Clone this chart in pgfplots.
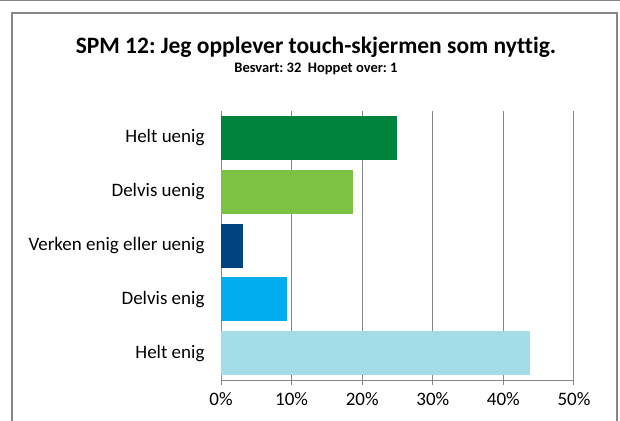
\documentclass[border=0pt]{standalone}
\usepackage{fontspec}
\setmainfont{Carlito}[Ligatures=NoCommon]
\usepackage{pgfplots}
\pgfplotsset{compat=1.18}
\definecolor{c1}{HTML}{00843D}
\definecolor{c2}{HTML}{7DC242}
\definecolor{c3}{HTML}{004381}
\definecolor{c4}{HTML}{00AEEF}
\definecolor{c5}{HTML}{A3DDE8}
\definecolor{gridc}{HTML}{868686}
\begin{document}
\frenchspacing
\begin{tikzpicture}
\path[use as bounding box] (0,0) rectangle (620bp,421bp);
\draw[gridc,line width=1.2bp] (0,420.5bp) -- (620bp,420.5bp);
\draw[gridc,line width=1.5bp] (12bp,-5bp) |- (617bp,408bp) -- (617bp,-5bp);
\node[font=\fontsize{23.5bp}{26bp}\selectfont\bfseries] at (316bp,374bp) {SPM 12: Jeg opplever touch-skjermen som nyttig.};
\node[font=\fontsize{14.5bp}{16bp}\selectfont\bfseries] at (316bp,352bp) {Besvart: 32\ \ Hoppet over: 1};
\begin{axis}[
  at={(221bp,41bp)}, anchor=south west,
  scale only axis, width=353bp, height=269bp,
  xbar, bar width=44bp, bar shift=0pt,
  xmin=0, xmax=50, ymin=-0.5, ymax=4.5,
  xtick={0,10,20,30,40,50},
  xticklabel={\pgfmathprintnumber{\tick}\%},
  ytick={0,1,2,3,4},
  yticklabels={Helt enig,Delvis enig,Verken enig eller uenig,Delvis uenig,Helt uenig},
  axis x line*=bottom, axis y line*=left,
  axis line style={gridc,line width=1bp,-},
  xmajorgrids, major grid style={gridc,line width=1bp},
  major x tick style={gridc,line width=1bp},
  major y tick style={draw=none},
  tick align=outside, major tick length=5bp,
  ticklabel style={font=\fontsize{19bp}{22bp}\selectfont},
  xticklabel style={yshift=-4bp},
  yticklabel style={xshift=-8bp},
  /pgf/number format/assume math mode=true,
]
\addplot[draw=none,fill=c5] coordinates {(43.75,0)};
\addplot[draw=none,fill=c4] coordinates {(9.375,1)};
\addplot[draw=none,fill=c3] coordinates {(3.125,2)};
\addplot[draw=none,fill=c2] coordinates {(18.75,3)};
\addplot[draw=none,fill=c1] coordinates {(25,4)};
\end{axis}
\end{tikzpicture}
\end{document}
